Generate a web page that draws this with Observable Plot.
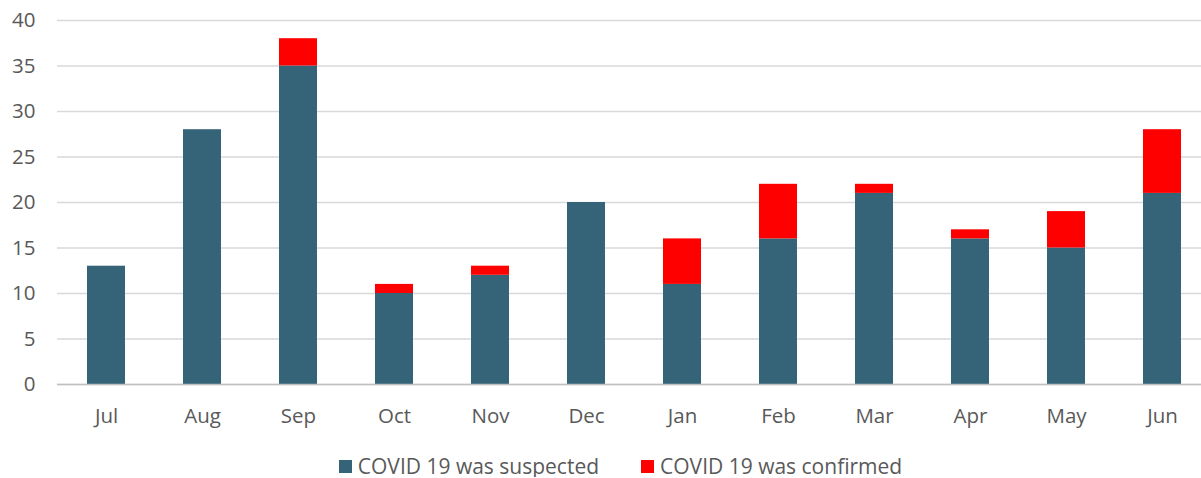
<!DOCTYPE html>
<html><head><meta charset="utf-8">
<script src="https://cdn.jsdelivr.net/npm/d3@7"></script>
<script src="https://cdn.jsdelivr.net/npm/@observablehq/plot@0.6"></script>
<style>
body{margin:0;background:#fff;font-family:"Open Sans",Lato,sans-serif;}
#legend{display:flex;justify-content:center;gap:42px;font-size:21px;color:#595959;margin-top:5px;margin-left:40px;line-height:22px;}
#legend span.sw{display:inline-block;width:13px;height:13px;margin-right:6px;vertical-align:middle;position:relative;top:-2px;}
</style></head><body>
<div id="chart"></div>
<div id="legend"></div>
<script>
const months = ["Jul","Aug","Sep","Oct","Nov","Dec","Jan","Feb","Mar","Apr","May","Jun"];
const suspected = [13,28,35,10,12,20,11,16,21,16,15,21];
const confirmed = [0,0,3,1,1,0,5,6,1,1,4,7];
const seriesNames = ["COVID 19 was suspected","COVID 19 was confirmed"];
const seriesColors = ["#356479","#ff0000"];
const yTicks = [0,5,10,15,20,25,30,35,40];

const data = months.flatMap((m,i)=>[
  {month:m, series:seriesNames[0], value:suspected[i]},
  {month:m, series:seriesNames[1], value:confirmed[i]}
]);

const chart = Plot.plot({
  width:1201, height:450,
  marginLeft:57, marginRight:0, marginTop:20, marginBottom:66,
  style:{fontFamily:"'Open Sans', Lato, sans-serif", fontSize:"20.5px", color:"#595959", background:"#fff"},
  x:{domain:months, range:[57,1211], paddingInner:0.6, paddingOuter:0.3, label:null},
  y:{domain:[0,40], label:null},
  color:{domain:seriesNames, range:seriesColors},
  marks:[
    Plot.ruleY(yTicks, {stroke:"#d9d9d9", strokeWidth:1.3}),
    Plot.barY(data, Plot.stackY({x:"month", y:"value", fill:"series", order:seriesNames})),
    Plot.ruleY([0], {stroke:"#bfbfbf", strokeWidth:1.3}),
    Plot.axisY(yTicks, {tickSize:0, tickPadding:22, label:null, fill:"#595959"}),
    Plot.axisX({tickSize:0, tickPadding:24, label:null, fill:"#595959"})
  ]
});
document.getElementById("chart").append(chart);
const lg = document.getElementById("legend");
seriesNames.forEach((s,i)=>{
  const d = document.createElement("div");
  d.innerHTML = `<span class="sw" style="background:${seriesColors[i]}"></span>${s}`;
  lg.append(d);
});
</script>
</body></html>
